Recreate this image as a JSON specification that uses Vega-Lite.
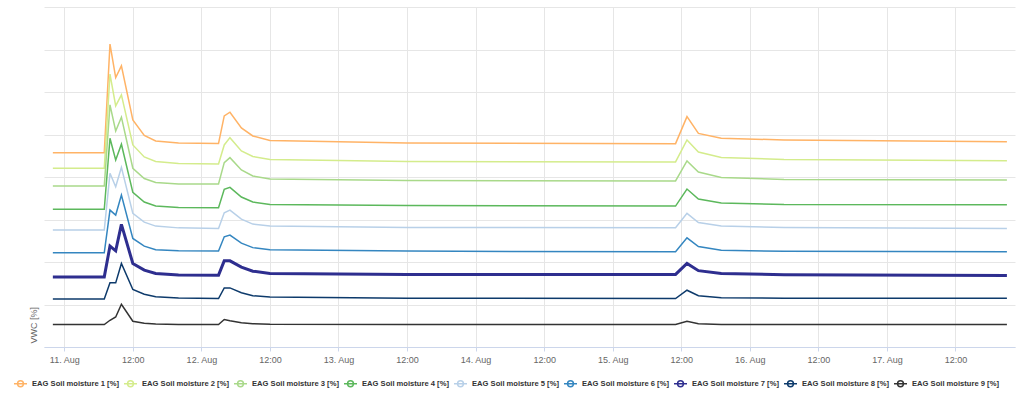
{
  "$schema": "https://vega.github.io/schema/vega-lite/v6.json",
  "width": 971,
  "height": 340,
  "autosize": "none",
  "padding": {"left": 44, "top": 7, "right": 15, "bottom": 47},
  "background": "white",
  "config": {
    "view": {"stroke": null}
  },
  "data": {
    "values": [
      {"t": "2024-08-10T22:00:00Z", "s1": 45.73, "s2": 42.05, "s3": 37.88, "s4": 32.39, "s5": 27.51, "s6": 22.16, "s7": 16.5, "s8": 11.31, "s9": 5.28},
      {"t": "2024-08-11T07:00:00Z", "s1": 45.73, "s2": 42.05, "s3": 37.88, "s4": 32.39, "s5": 27.51, "s6": 22.16, "s7": 16.5, "s8": 11.31, "s9": 5.28},
      {"t": "2024-08-11T08:00:00Z", "s1": 71.28, "s2": 64.21, "s3": 56.97, "s4": 49.12, "s5": 40.87, "s6": 32.22, "s7": 23.74, "s8": 15.09, "s9": 6.29},
      {"t": "2024-08-11T09:00:00Z", "s1": 63.41, "s2": 56.74, "s3": 50.84, "s4": 44.01, "s5": 37.71, "s6": 31.04, "s7": 22.63, "s8": 15.09, "s9": 7.07},
      {"t": "2024-08-11T10:00:00Z", "s1": 66.16, "s2": 59.33, "s3": 54.07, "s4": 47.71, "s5": 42.29, "s6": 35.76, "s7": 28.85, "s8": 19.66, "s9": 10.06},
      {"t": "2024-08-11T12:00:00Z", "s1": 53.44, "s2": 47.54, "s3": 42.05, "s4": 36.39, "s5": 31.44, "s6": 25.55, "s7": 19.66, "s8": 13.53, "s9": 6.06},
      {"t": "2024-08-11T14:00:00Z", "s1": 49.78, "s2": 44.71, "s3": 39.65, "s4": 34.11, "s5": 29.39, "s6": 23.74, "s7": 18.08, "s8": 12.42, "s9": 5.59},
      {"t": "2024-08-11T16:00:00Z", "s1": 48.49, "s2": 43.65, "s3": 38.7, "s4": 33.16, "s5": 28.45, "s6": 22.91, "s7": 17.3, "s8": 11.83, "s9": 5.4},
      {"t": "2024-08-11T20:00:00Z", "s1": 48.01, "s2": 43.18, "s3": 38.35, "s4": 32.81, "s5": 28.03, "s6": 22.63, "s7": 16.97, "s8": 11.55, "s9": 5.3},
      {"t": "2024-08-12T03:00:00Z", "s1": 47.9, "s2": 43.06, "s3": 38.35, "s4": 32.76, "s5": 27.91, "s6": 22.56, "s7": 16.9, "s8": 11.41, "s9": 5.28},
      {"t": "2024-08-12T04:00:00Z", "s1": 54.38, "s2": 47.54, "s3": 43.37, "s4": 37.1, "s5": 31.59, "s6": 25.93, "s7": 20.27, "s8": 13.91, "s9": 6.46},
      {"t": "2024-08-12T05:00:00Z", "s1": 55.25, "s2": 49.26, "s3": 44.55, "s4": 37.57, "s5": 32.22, "s6": 26.33, "s7": 20.27, "s8": 13.91, "s9": 6.18},
      {"t": "2024-08-12T07:00:00Z", "s1": 51.55, "s2": 46.13, "s3": 41.65, "s4": 35.29, "s5": 30.1, "s6": 24.44, "s7": 18.79, "s8": 12.78, "s9": 5.7},
      {"t": "2024-08-12T09:00:00Z", "s1": 49.66, "s2": 44.83, "s3": 40.24, "s4": 34.11, "s5": 28.92, "s6": 23.38, "s7": 17.84, "s8": 12.07, "s9": 5.47},
      {"t": "2024-08-12T12:00:00Z", "s1": 48.6, "s2": 44.12, "s3": 39.53, "s4": 33.52, "s5": 28.45, "s6": 22.91, "s7": 17.3, "s8": 11.79, "s9": 5.35},
      {"t": "2024-08-13T12:00:00Z", "s1": 48.01, "s2": 43.65, "s3": 39.18, "s4": 33.28, "s5": 28.14, "s6": 22.56, "s7": 17.07, "s8": 11.48, "s9": 5.28},
      {"t": "2024-08-15T11:00:00Z", "s1": 47.85, "s2": 43.54, "s3": 39.06, "s4": 33.16, "s5": 28.05, "s6": 22.39, "s7": 17.07, "s8": 11.41, "s9": 5.28},
      {"t": "2024-08-15T13:00:00Z", "s1": 54.21, "s2": 48.72, "s3": 43.77, "s4": 37.17, "s5": 31.44, "s6": 25.69, "s7": 19.66, "s8": 13.36, "s9": 6.06},
      {"t": "2024-08-15T15:00:00Z", "s1": 50.25, "s2": 45.89, "s3": 41.18, "s4": 34.81, "s5": 29.28, "s6": 23.62, "s7": 17.96, "s8": 12.07, "s9": 5.47},
      {"t": "2024-08-15T19:00:00Z", "s1": 49.12, "s2": 44.6, "s3": 39.88, "s4": 33.87, "s5": 28.45, "s6": 22.79, "s7": 17.3, "s8": 11.6, "s9": 5.3},
      {"t": "2024-08-16T06:00:00Z", "s1": 48.72, "s2": 44.12, "s3": 39.41, "s4": 33.52, "s5": 28.1, "s6": 22.51, "s7": 17.02, "s8": 11.48, "s9": 5.28},
      {"t": "2024-08-17T21:00:00Z", "s1": 48.32, "s2": 43.84, "s3": 39.29, "s4": 33.47, "s5": 27.91, "s6": 22.39, "s7": 16.83, "s8": 11.48, "s9": 5.28}
    ]
  },
  "transform": [
    {"fold": ["s1", "s2", "s3", "s4", "s5", "s6", "s7", "s8", "s9"], "as": ["series", "vwc"]}
  ],
  "encoding": {
    "x": {
      "field": "t",
      "type": "temporal",
      "title": null,
      "scale": {
        "domain": [
          {"year": 2024, "month": 8, "date": 10, "hours": 20, "minutes": 27},
          {"year": 2024, "month": 8, "date": 17, "hours": 22, "minutes": 25}
        ]
      },
      "axis": {
        "values": [
          {"year": 2024, "month": 8, "date": 11, "hours": 0},
          {"year": 2024, "month": 8, "date": 11, "hours": 12},
          {"year": 2024, "month": 8, "date": 12, "hours": 0},
          {"year": 2024, "month": 8, "date": 12, "hours": 12},
          {"year": 2024, "month": 8, "date": 13, "hours": 0},
          {"year": 2024, "month": 8, "date": 13, "hours": 12},
          {"year": 2024, "month": 8, "date": 14, "hours": 0},
          {"year": 2024, "month": 8, "date": 14, "hours": 12},
          {"year": 2024, "month": 8, "date": 15, "hours": 0},
          {"year": 2024, "month": 8, "date": 15, "hours": 12},
          {"year": 2024, "month": 8, "date": 16, "hours": 0},
          {"year": 2024, "month": 8, "date": 16, "hours": 12},
          {"year": 2024, "month": 8, "date": 17, "hours": 0},
          {"year": 2024, "month": 8, "date": 17, "hours": 12}
        ],
        "labelExpr": "timeFormat(datum.value, '%H:%M') == '00:00' ? timeFormat(datum.value, '%d. %b') : timeFormat(datum.value, '%H:%M')",
        "labelFont": "Liberation Sans",
        "labelFontSize": 9,
        "labelColor": "#666666",
        "labelPadding": 4,
        "labelFlush": false,
        "labelOverlap": false,
        "domainColor": "#ccd6eb",
        "tickColor": "#ccd6eb",
        "tickSize": 4,
        "gridColor": "#e6e6e6"
      }
    },
    "y": {
      "field": "vwc",
      "type": "quantitative",
      "scale": {"domain": [0, 80]},
      "axis": {
        "title": "VWC [%]",
        "labels": false,
        "ticks": false,
        "domain": false,
        "tickCount": 8,
        "gridColor": "#e6e6e6",
        "titleFont": "Liberation Sans",
        "titleFontSize": 9,
        "titleFontWeight": "normal",
        "titleColor": "#666666",
        "titleAlign": "left",
        "titleX": -6,
        "titleY": 336
      }
    },
    "color": {
      "field": "series",
      "type": "nominal",
      "scale": {
        "domain": ["s1", "s2", "s3", "s4", "s5", "s6", "s7", "s8", "s9"],
        "range": ["#ffb366", "#d4ec8c", "#a9d98a", "#5cb85c", "#b8d0e8", "#3486c0", "#2e2e8f", "#0d3a6b", "#333333"]
      },
      "legend": {
        "title": null,
        "orient": "none",
        "direction": "horizontal",
        "columns": 9,
        "legendX": -31,
        "legendY": 369,
        "columnPadding": 2,
        "labelOffset": 4,
        "symbolSize": 169,
        "symbolStrokeWidth": 1.5,
        "symbolType": "M-1,0H1M0.45,0A0.45,0.45,0,1,1,-0.45,0A0.45,0.45,0,1,1,0.45,0Z",
        "labelFont": "Liberation Sans",
        "labelFontSize": 7.6,
        "labelFontWeight": "bold",
        "labelColor": "#333333",
        "labelExpr": "replace(datum.label, 's', 'EAG Soil moisture ') + ' [%]'"
      }
    }
  },
  "layer": [
    {
      "transform": [{"filter": "datum.series != 's7'"}],
      "mark": {"type": "line", "strokeWidth": 1.5}
    },
    {
      "transform": [{"filter": "datum.series == 's7'"}],
      "mark": {"type": "line", "strokeWidth": 3}
    }
  ]
}
